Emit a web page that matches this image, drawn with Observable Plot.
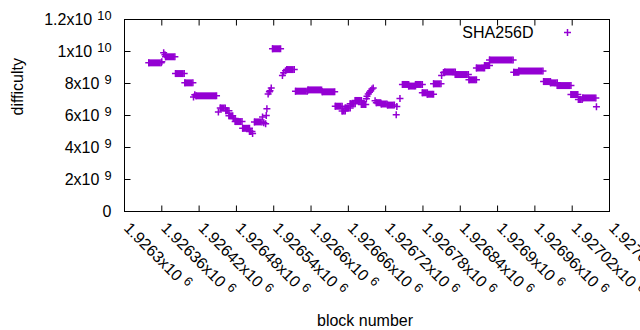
<!DOCTYPE html>
<html><head><meta charset="utf-8">
<script src="https://cdn.jsdelivr.net/npm/d3@7"></script>
<script src="https://cdn.jsdelivr.net/npm/@observablehq/plot@0.6"></script>
<style>html,body{margin:0;padding:0;background:#fff}svg{display:block}</style>
</head><body><div id="chart"></div>
<script>
// ---- data ----
const seriesName = "SHA256D";
const xTitle = "block number";
const yTitle = "difficulty";

const xTicks = [1926300, 1926360, 1926420, 1926480, 1926540, 1926600, 1926660, 1926720, 1926780, 1926840, 1926900, 1926960, 1927020, 1927080];
const xTickLabels = ["1.9263x10^6", "1.92636x10^6", "1.92642x10^6", "1.92648x10^6", "1.92654x10^6", "1.9266x10^6", "1.92666x10^6", "1.92672x10^6", "1.92678x10^6", "1.92684x10^6", "1.9269x10^6", "1.92696x10^6", "1.92702x10^6", "1.92708x10^6"];
const yTicks = [0, 2e9, 4e9, 6e9, 8e9, 1e10, 1.2e10];
const yTickLabels = ["0", "2x10^9", "4x10^9", "6x10^9", "8x10^9", "1x10^10", "1.2x10^10"];

// runs of consecutive blocks sharing one difficulty
const runStart = [1926339, 1926366, 1926382, 1926397, 1926415, 1926454, 1926463, 1926468, 1926475, 1926478, 1926490, 1926501, 1926509, 1926538, 1926561, 1926575, 1926595, 1926618, 1926639, 1926650, 1926655, 1926663, 1926671, 1926681, 1926705, 1926713, 1926723, 1926747, 1926757, 1926768, 1926779, 1926787, 1926797, 1926815, 1926832, 1926854, 1926866, 1926879, 1926887, 1926926, 1926934, 1926974, 1926985, 1926996, 1927018, 1927030, 1927037];
const runEnd   = [1926359, 1926381, 1926396, 1926410, 1926448, 1926462, 1926468, 1926474, 1926478, 1926489, 1926501, 1926505, 1926521, 1926551, 1926573, 1926594, 1926617, 1926638, 1926650, 1926655, 1926663, 1926671, 1926681, 1926688, 1926712, 1926722, 1926734, 1926757, 1926768, 1926779, 1926787, 1926797, 1926809, 1926832, 1926853, 1926866, 1926879, 1926887, 1926925, 1926934, 1926973, 1926985, 1926996, 1927018, 1927029, 1927036, 1927058];
const runDiff  = [9.29e9, 9.67e9, 8.62e9, 8.04e9, 7.23e9, 6.47e9, 6.30e9, 5.98e9, 5.81e9, 5.62e9, 5.20e9, 5.00e9, 5.60e9, 10.17e9, 8.87e9, 7.52e9, 7.60e9, 7.48e9, 6.58e9, 6.28e9, 6.47e9, 6.73e9, 6.94e9, 6.69e9, 6.80e9, 6.72e9, 6.65e9, 7.94e9, 7.84e9, 7.94e9, 7.42e9, 7.33e9, 7.98e9, 8.72e9, 8.56e9, 8.23e9, 8.97e9, 9.12e9, 9.47e9, 8.70e9, 8.78e9, 8.12e9, 8.04e9, 7.87e9, 7.31e9, 7.00e9, 7.10e9];

// isolated blocks
const ptBlock = [1926360, 1926363, 1926365, 1926411, 1926413, 1926451, 1926506, 1926522, 1926524, 1926527, 1926528, 1926529, 1926531, 1926533, 1926534, 1926536, 1926554, 1926556, 1926559, 1926689, 1926690, 1926692, 1926694, 1926696, 1926698, 1926700, 1926703, 1926737, 1926738, 1926743, 1926810, 1926813, 1927059];
const ptDiff  = [9.36e9, 9.92e9, 9.80e9, 7.15e9, 7.30e9, 6.22e9, 4.88e9, 5.90e9, 5.55e9, 5.48e9, 6.00e9, 6.42e9, 7.35e9, 7.48e9, 7.55e9, 7.72e9, 8.50e9, 8.67e9, 8.80e9, 7.05e9, 7.20e9, 7.35e9, 7.45e9, 7.55e9, 7.65e9, 7.72e9, 6.92e9, 6.05e9, 6.56e9, 7.06e9, 8.50e9, 8.68e9, 6.54e9];

// ---- drawing ----
const color = "#9400d3";
const plusSym = {draw(ctx, size) { const r = Math.sqrt(size / Math.PI); ctx.moveTo(-r, 0); ctx.lineTo(r, 0); ctx.moveTo(0, -r); ctx.lineTo(0, r); }};
const tickSym = (dx, dy) => ({draw(ctx) { ctx.moveTo(0, 0); ctx.lineTo(dx, dy); }});

const runs = runStart.map((s, i) => ({s, e: runEnd[i], d: runDiff[i]}));
const runEnds = runs.flatMap(r => [{b: r.s, d: r.d}, {b: r.e, d: r.d}]);
const pts = ptBlock.map((b, i) => ({b, d: ptDiff[i]}));

const plusOpts = {symbol: plusSym, r: 3.5, fill: "none", stroke: color, strokeWidth: 1.5};

const svg = Plot.plot({
  width: 640, height: 330,
  marginLeft: 124, marginRight: 31, marginTop: 19, marginBottom: 119,
  x: {domain: [1926300, 1927080], axis: null},
  y: {domain: [0, 1.2e10], axis: null},
  style: {fontFamily: "'Liberation Sans', Arial, sans-serif", fontSize: "16px", background: "white", color: "black", overflow: "hidden"},
  marks: [
    Plot.ruleY(runs, {x1: "s", x2: "e", y: "d", stroke: color, strokeWidth: 7}),
    Plot.dot(runEnds, {x: "b", y: "d", ...plusOpts}),
    Plot.dot(pts, {x: "b", y: "d", ...plusOpts}),
    Plot.frame({stroke: "black", strokeWidth: 1}),
    Plot.dot(xTicks, {x: d => d, frameAnchor: "bottom", symbol: tickSym(0, -6), stroke: "black", strokeWidth: 1, fill: "none"}),
    Plot.dot(xTicks, {x: d => d, frameAnchor: "top", symbol: tickSym(0, 6), stroke: "black", strokeWidth: 1, fill: "none"}),
    Plot.dot(yTicks, {y: d => d, frameAnchor: "left", symbol: tickSym(6, 0), stroke: "black", strokeWidth: 1, fill: "none"}),
    Plot.dot(yTicks, {y: d => d, frameAnchor: "right", symbol: tickSym(-6, 0), stroke: "black", strokeWidth: 1, fill: "none"}),
    Plot.text(yTicks, {y: d => d, frameAnchor: "left", text: (d, i) => yTickLabels[i], textAnchor: "end", dx: -13, fill: "black"}),
    Plot.text(xTicks, {x: d => d, frameAnchor: "bottom", text: (d, i) => xTickLabels[i], textAnchor: "start", rotate: 45, dx: 2, dy: 14, lineAnchor: "middle", fill: "black"}),
    Plot.text([xTitle], {frameAnchor: "bottom", text: d => d, dx: -2, dy: 114.5, lineAnchor: "bottom", fill: "black"}),
    Plot.text([yTitle], {frameAnchor: "left", text: d => d, rotate: -90, dx: -102, lineAnchor: "bottom", fill: "black"}),
    Plot.text([seriesName], {frameAnchor: "top-right", text: d => d, dx: -76, dy: 13, textAnchor: "end", lineAnchor: "middle", fill: "black"}),
    Plot.dot([seriesName], {frameAnchor: "top-right", dx: -42, dy: 13, ...plusOpts})
  ]
});

// superscripts (gnuplot enhanced text style)
const ns = "http://www.w3.org/2000/svg";
svg.querySelectorAll("text").forEach(t => {
  const s = t.textContent; const k = s.indexOf("^");
  if (k < 0) return;
  t.textContent = s.slice(0, k);
  const sup = document.createElementNS(ns, "tspan");
  sup.setAttribute("dx", "5"); sup.setAttribute("dy", "-5"); sup.setAttribute("font-size", "12.8px");
  sup.textContent = s.slice(k + 1);
  t.appendChild(sup);
});
document.getElementById("chart").appendChild(svg);
</script>
</body></html>
